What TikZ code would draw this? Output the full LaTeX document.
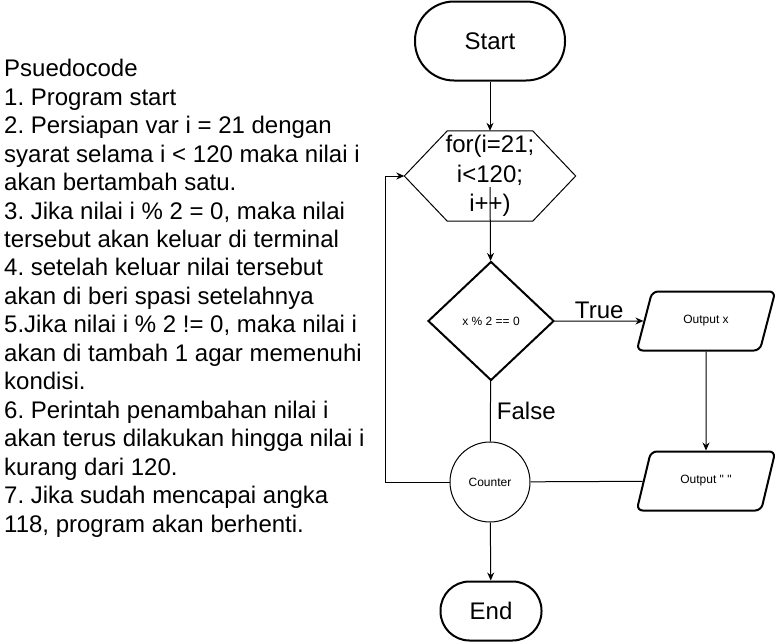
\documentclass[tikz,border=0pt]{standalone}
\usepackage{fontspec}
\newfontfamily\flowfont{Liberation Sans}
\usetikzlibrary{shapes.geometric}
\usetikzlibrary{arrows.meta}

\begin{document}
\begin{tikzpicture}[
    x=1pt, y=-1pt,
    big/.style={font=\flowfont\fontsize{24}{29.5}\selectfont},
    small/.style={font=\flowfont\fontsize{12}{14}\selectfont},
    code node/.style={font=\flowfont\fontsize{24}{28.45}\selectfont\frenchspacing, align=left, inner sep=0pt},
    term node/.style={draw, line width=2pt, rounded corners=29pt, minimum width=101pt, minimum height=59pt, big},
    cond node/.style={diamond, draw, line width=2pt, minimum width=126pt, minimum height=119pt, inner sep=0pt, small},
    io node/.style={trapezium, trapezium left angle=67, trapezium right angle=113, trapezium stretches=true, draw, line width=2pt, rounded corners=6pt, minimum width=139pt, minimum height=59pt, small},
    count node/.style={circle, draw, line width=1pt, minimum size=80pt, inner sep=0pt, small},
    plain line/.style={line width=1pt},
    arrow line/.style={line width=1pt, -{Stealth[length=8pt, width=7pt]}},
    ]
  \useasboundingbox (0,0) rectangle (777,643);

  \node[code node, anchor=base west] (code) at (4,532) {Psuedocode\\
    1. Program start\\
    2. Persiapan var i = 21 dengan\\
    syarat selama i < 120 maka nilai i\\
    akan bertambah satu.\\
    3. Jika nilai i \% 2 = 0, maka nilai\\
    tersebut akan keluar di terminal\\
    4. setelah keluar nilai tersebut\\
    akan di beri spasi setelahnya\\
    5.Jika nilai i \% 2 != 0, maka nilai i\\
    akan di tambah 1 agar memenuhi\\
    kondisi.\\
    6. Perintah penambahan nilai i\\
    akan terus dilakukan hingga nilai i\\
    kurang dari 120.\\
    7. Jika sudah mencapai angka\\
    118, program akan berhenti.};

  \node[term node, minimum width=150pt, minimum height=79pt, rounded corners=39pt] (start) at (490,41) {Start};
  \node[big, align=center, inner sep=0pt, minimum width=171pt, minimum height=90pt] (loop) at (490,176) {for(i=21;\\i<120;\\i++)};
  \node[cond node] (check) at (491,321) {x \% 2 == 0};
  \node[io node] (outx) at (706,321) {Output x};
  \node[io node] (outsp) at (706,481) {Output " "};
  \node[count node] (count) at (490,482) {Counter};
  \node[term node] (end) at (491,611) {End};
  \coordinate (back) at (385,482);

  % hexagon of the loop
  \draw[line width=1pt] (loop.west) -- ([xshift=43pt]loop.north west) -- ([xshift=-43pt]loop.north east)
    -- (loop.east) -- ([xshift=-43pt]loop.south east) -- ([xshift=43pt]loop.south west) -- cycle;

  \draw[arrow line] (start) -- (loop);
  \draw[arrow line] ([yshift=-11pt]loop.center) -- (check);
  \draw[arrow line] (check) -- node[big, above, inner sep=2pt] {True} (outx);
  \draw[plain line] (check) -- node[big, right, inner sep=6pt] {False} (count);
  \draw[arrow line] (outx) -- (outsp);
  \draw[plain line] (outsp) -- (count);
  \draw[arrow line] (count) -- (end);
  \draw[arrow line] (count) -- (back) |- (loop.west);
\end{tikzpicture}
\end{document}
